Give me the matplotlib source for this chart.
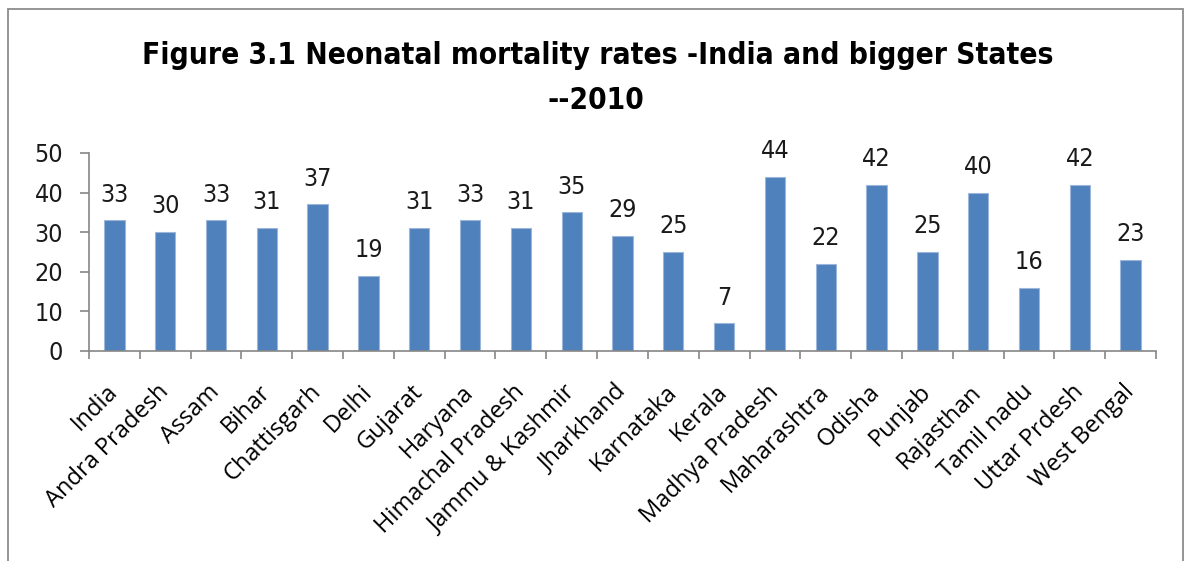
import numpy as np
import matplotlib
matplotlib.use('Agg')
from matplotlib import pyplot as plt
from matplotlib import font_manager as fm
from matplotlib.patches import Rectangle
from matplotlib.transforms import ScaledTranslation

states = ['India', 'Andra Pradesh', 'Assam', 'Bihar', 'Chattisgarh', 'Delhi',
          'Gujarat', 'Haryana', 'Himachal Pradesh', 'Jammu & Kashmir',
          'Jharkhand', 'Karnataka', 'Kerala', 'Madhya Pradesh', 'Maharashtra',
          'Odisha', 'Punjab', 'Rajasthan', 'Tamil nadu', 'Uttar Prdesh',
          'West Bengal']
nmr_2010 = [33, 30, 33, 31, 37, 19, 31, 33, 31, 35, 29, 25, 7, 44, 22, 42,
            25, 40, 16, 42, 23]
y_ticks = [0, 10, 20, 30, 40, 50]

title_1 = 'Figure 3.1 Neonatal mortality rates -India and bigger States'
title_2 = '--2010'

W, H = 1185, 561
label_font = ['Open Sans', 'DejaVu Sans']
axis_col = '#868686'

# pick a narrow face for title / numbers if one is around
def has_font(fam, stretch='normal'):
  try:
    p = fm.findfont(fm.FontProperties(family=fam, stretch=stretch), fallback_to_default=False)
  except ValueError:
    return False
  return stretch == 'normal' or 'ondensed' in p or 'arrow' in p

if has_font('Liberation Sans Narrow'):
  narrow, stretch = ['Liberation Sans Narrow', 'DejaVu Sans'], 'normal'
elif has_font('DejaVu Sans', 'condensed'):
  narrow, stretch = ['DejaVu Sans'], 'condensed'
else:
  narrow, stretch = ['Roboto', 'DejaVu Sans'], 'normal'

fig = plt.figure(figsize=(W/100, H/100), dpi=100)
ax = fig.add_axes([89/W, 1-351/H, (1156-89)/W, (351-153)/H])

x = np.arange(len(states))
ax.bar(x, nmr_2010, width=0.4, color='#4F81BD', edgecolor='#9DB7DA', linewidth=0.8)
for i, v in zip(x, nmr_2010):
  ax.annotate(str(v), (i, v), xytext=(0, 13.5), textcoords='offset points',
              ha='center', va='baseline', fontsize=18, family=narrow,
              fontstretch=stretch, color='#1a1a1a')

ax.set_xlim(-0.5, len(states)-0.5)
ax.set_ylim(0, 50)
ax.set_yticks(y_ticks)
ax.set_yticklabels([str(t) for t in y_ticks], fontsize=18, family=narrow,
                   fontstretch=stretch, color='#1a1a1a')

# category boundaries carry the ticks, labels sit at the centres
ax.set_xticks(np.arange(-0.5, len(states), 1), minor=True)
ax.set_xticks(x)
ax.set_xticklabels(states, rotation=45, ha='right', va='center',
                   rotation_mode='anchor', fontsize=17, family=label_font)
shift = ScaledTranslation(11/72, 0, fig.dpi_scale_trans)
for lab in ax.get_xticklabels():
  lab.set_transform(lab.get_transform() + shift)

ax.tick_params(axis='x', which='major', length=0, pad=27)
ax.tick_params(axis='x', which='minor', length=5.5, width=1.2, color=axis_col)
ax.tick_params(axis='y', length=6.5, width=1.2, color=axis_col, pad=12)

for s in ['top', 'right']:
  ax.spines[s].set_visible(False)
for s in ['left', 'bottom']:
  ax.spines[s].set_color(axis_col)
  ax.spines[s].set_linewidth(1.2)

t1 = fig.text(597.5/W, 1-64/H, title_1, ha='center', va='baseline',
              fontsize=26, fontweight='bold', family=narrow, fontstretch=stretch)
t2 = fig.text(595.5/W, 1-109/H, title_2, ha='center', va='baseline',
              fontsize=26, fontweight='bold', family=narrow, fontstretch=stretch)

# shrink the title to the reference width (about 909 px) if the face is wider
r = fig.canvas.get_renderer()
w1 = t1.get_window_extent(r).width
if w1 > 915:
  fs = 26*909/w1
  t1.set_fontsize(fs)
  t2.set_fontsize(fs)

fig.add_artist(Rectangle((8/W, -0.1), (1183-8)/W, 1-9/H+0.1, transform=fig.transFigure,
                         fill=False, edgecolor='#8C8C8C', linewidth=1.3))

fig.savefig('out.png', dpi=100)
